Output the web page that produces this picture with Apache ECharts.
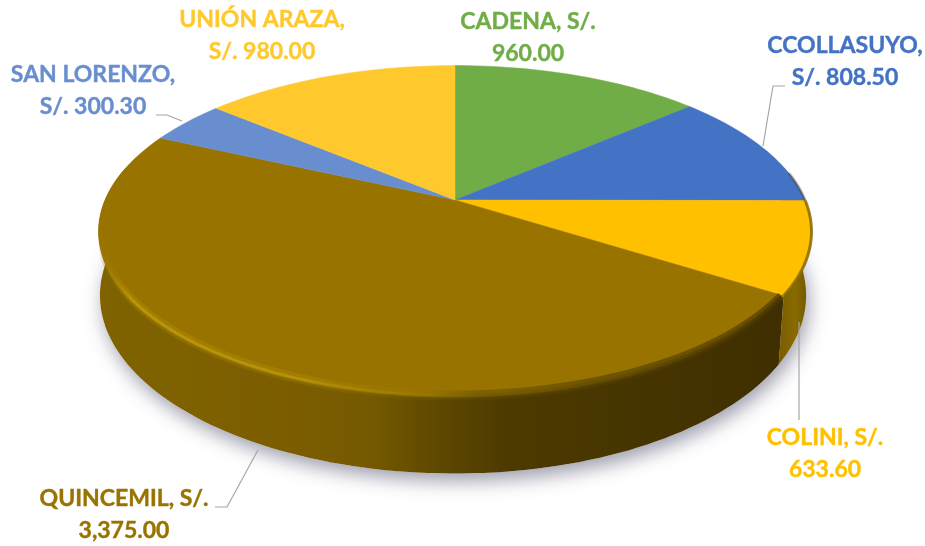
<!DOCTYPE html>
<html>
<head>
<meta charset="utf-8">
<style>html,body{margin:0;padding:0;background:#fff}#c{width:925px;height:546px}</style>
<script src="https://cdn.jsdelivr.net/npm/echarts@6/dist/echarts.min.js"></script>
</head>
<body>
<div id="c"></div>
<script>
// Data, clockwise from 12 o'clock
const categories = ['CADENA', 'CCOLLASUYO', 'COLINI', 'QUINCEMIL', 'SAN LORENZO', 'UNIÓN ARAZA'];
const amounts = [960.00, 808.50, 633.60, 3375.00, 300.30, 980.00];
const breakBeforeCurrency = [false, true, false, false, true, true];

// Styles
const faceColors = ['#70AD47', '#4472C4', '#FFC000', '#997300', '#698ED0', '#FFC92E'];
const labelColors = ['#70AD47', '#4472C4', '#FFC000', '#997300', '#698ED0', '#FFC92E'];
const labelCentres = [[528, 38], [845, 62], [825, 454], [124, 515], [93, 91], [262, 36]];
const leaderLines = [
  null,
  [[785, 86], [773, 86], [763, 146]],
  [[799, 322], [799, 420]],
  [[215, 507], [227, 507], [258, 450]],
  [[156, 115], [167, 115], [182, 121]],
  null
];

// Tilted disc projection
const CX = 455, CY = 200, A = 350, B = 160, K = 0.19, DEPTH = 76;
const rad = d => d * Math.PI / 180;
function rim(deg) {
  const t = rad(deg), w = 1 + K * Math.cos(t);
  return [CX + A * Math.sin(t) / w, CY - B * Math.cos(t) / w];
}
function foot(deg) {
  const t = rad(deg), w = 1 + K * Math.cos(t), p = rim(deg);
  const shrink = p[0] > CX ? 0.985 : 0.996;
  return [CX + (p[0] - CX) * shrink, p[1] + DEPTH * (1 - K) / w];
}
function arc(fn, from, to) {
  const pts = [], n = Math.max(2, Math.ceil(Math.abs(to - from) / 1.5));
  for (let i = 0; i <= n; i++) pts.push(fn(from + (to - from) * i / n));
  return pts;
}
const total = amounts.reduce((a, b) => a + b, 0);
const money = v => v.toLocaleString('en-US', { minimumFractionDigits: 2, maximumFractionDigits: 2 });
const grad = (x, x2, stops) => ({
  type: 'linear', global: true, x: x, y: 0, x2: x2, y2: 0,
  colorStops: stops.map(s => ({ offset: s[0], color: s[1] }))
});
const quinWall = grad(98, 780, [[0, '#806300'], [0.3, '#7b5d00'], [0.4, '#755900'], [0.5, '#5e4800'], [0.6, '#4d3a00'], [1, '#3f2f00']]);
const colWall = grad(780, 810, [[0, '#7a5d00'], [0.5, '#8a6b00'], [1, '#6d5400']]);
const glowWide = grad(98, 780, [[0, 'rgba(150,118,0,0)'], [0.04, 'rgba(176,142,0,0.45)'], [0.3, 'rgba(176,142,0,0.4)'], [0.45, 'rgba(160,128,0,0.2)'], [0.55, 'rgba(110,85,0,0.6)'], [0.75, 'rgba(100,76,0,0.8)'], [1, 'rgba(90,68,0,0.85)']]);
const glowCore = grad(98, 780, [[0, 'rgba(170,136,0,0)'], [0.05, 'rgba(190,154,10,0.85)'], [0.3, 'rgba(186,150,10,0.8)'], [0.45, 'rgba(165,132,0,0.4)'], [0.55, 'rgba(120,92,0,0.7)'], [1, 'rgba(75,56,0,0.9)']]);
const glowEdge = grad(98, 780, [[0, 'rgba(130,100,0,0)'], [0.05, 'rgba(145,114,0,0.8)'], [0.35, 'rgba(135,105,0,0.7)'], [0.55, 'rgba(90,70,0,0.7)'], [1, 'rgba(65,48,0,0.9)']]);

function renderItem(params, api) {
  const i = params.dataIndex;
  const value = api.value(0);
  let before = 0;
  for (let j = 0; j < i; j++) before += amounts[j];
  const a0 = before / total * 360, a1 = (before + value) / total * 360;
  const children = [];

  if (i === 0) {
    children.push({
      type: 'polygon', z2: 0, silent: true,
      shape: { points: arc(foot, 0, 360) },
      style: { fill: '#fff', shadowBlur: 18, shadowColor: 'rgba(70,70,100,0.5)', shadowOffsetX: 3, shadowOffsetY: 8 }
    });
  }
  // Wall: only the part of the slice that faces the viewer
  const w0 = Math.max(a0, 78), w1 = Math.min(a1, 282);
  if (w1 > w0) {
    const pts = arc(rim, w0, w1).concat(arc(foot, w1, w0));
    children.push({
      type: 'polygon', z2: 1, shape: { points: pts },
      style: { fill: i === 3 ? quinWall : i === 2 ? colWall : '#6d5400' }
    });
  }
  // Face
  children.push({
    type: 'polygon', z2: 2,
    shape: { points: [[CX, CY]].concat(arc(rim, a0, a1)) },
    style: { fill: api.visual('color'), stroke: api.visual('color'), lineWidth: 0.5 }
  });
  // Bevel on the rim
  if (i === 3) {
    const inset = off => p => { const r = rim(p); return [r[0], r[1] - off]; };
    const from = a0 + 1, to = 262;
    [[inset(3), glowWide, 8], [inset(-1), glowEdge, 4], [inset(2), glowCore, 3]].forEach(b => {
      children.push({
        type: 'polyline', z2: 3, silent: true,
        shape: { points: arc(b[0], from, to) },
        style: { fill: null, stroke: b[1], lineWidth: b[2], lineCap: 'butt' }
      });
    });
  }
  if (i === 1 || i === 2) {
    const from = Math.max(a0, 80), to = a1;
    children.push({
      type: 'polyline', z2: 3, silent: true,
      shape: { points: arc(rim, from, to) },
      style: { fill: null, stroke: i === 1 ? 'rgba(80,70,60,0.45)' : 'rgba(130,100,0,0.8)', lineWidth: 3, lineCap: 'butt' }
    });
  }
  // Leader
  if (leaderLines[i]) {
    children.push({
      type: 'polyline', z2: 4, silent: true,
      shape: { points: leaderLines[i] },
      style: { fill: null, stroke: '#a6a6a6', lineWidth: 1.2 }
    });
  }
  // Label
  const name = categories[i];
  const text = breakBeforeCurrency[i]
    ? name + ',\nS/. ' + money(value)
    : name + ', S/.\n' + money(value);
  children.push({
    type: 'text', z2: 5,
    style: {
      text: text, x: labelCentres[i][0], y: labelCentres[i][1],
      align: 'center', verticalAlign: 'middle',
      font: 'bold 23px Lato, "Open Sans", sans-serif', lineHeight: 32,
      fill: labelColors[i], stroke: labelColors[i], lineWidth: 0.4
    }
  });
  return { type: 'group', children: children };
}

const chart = echarts.init(document.getElementById('c'), null, { renderer: 'canvas' });
chart.setOption({
  animation: false,
  backgroundColor: '#ffffff',
  series: [{
    type: 'custom',
    coordinateSystem: 'none',
    renderItem: renderItem,
    data: categories.map((c, i) => ({
      name: c,
      value: [amounts[i]],
      itemStyle: { color: faceColors[i] }
    }))
  }]
});
</script>
</body>
</html>
